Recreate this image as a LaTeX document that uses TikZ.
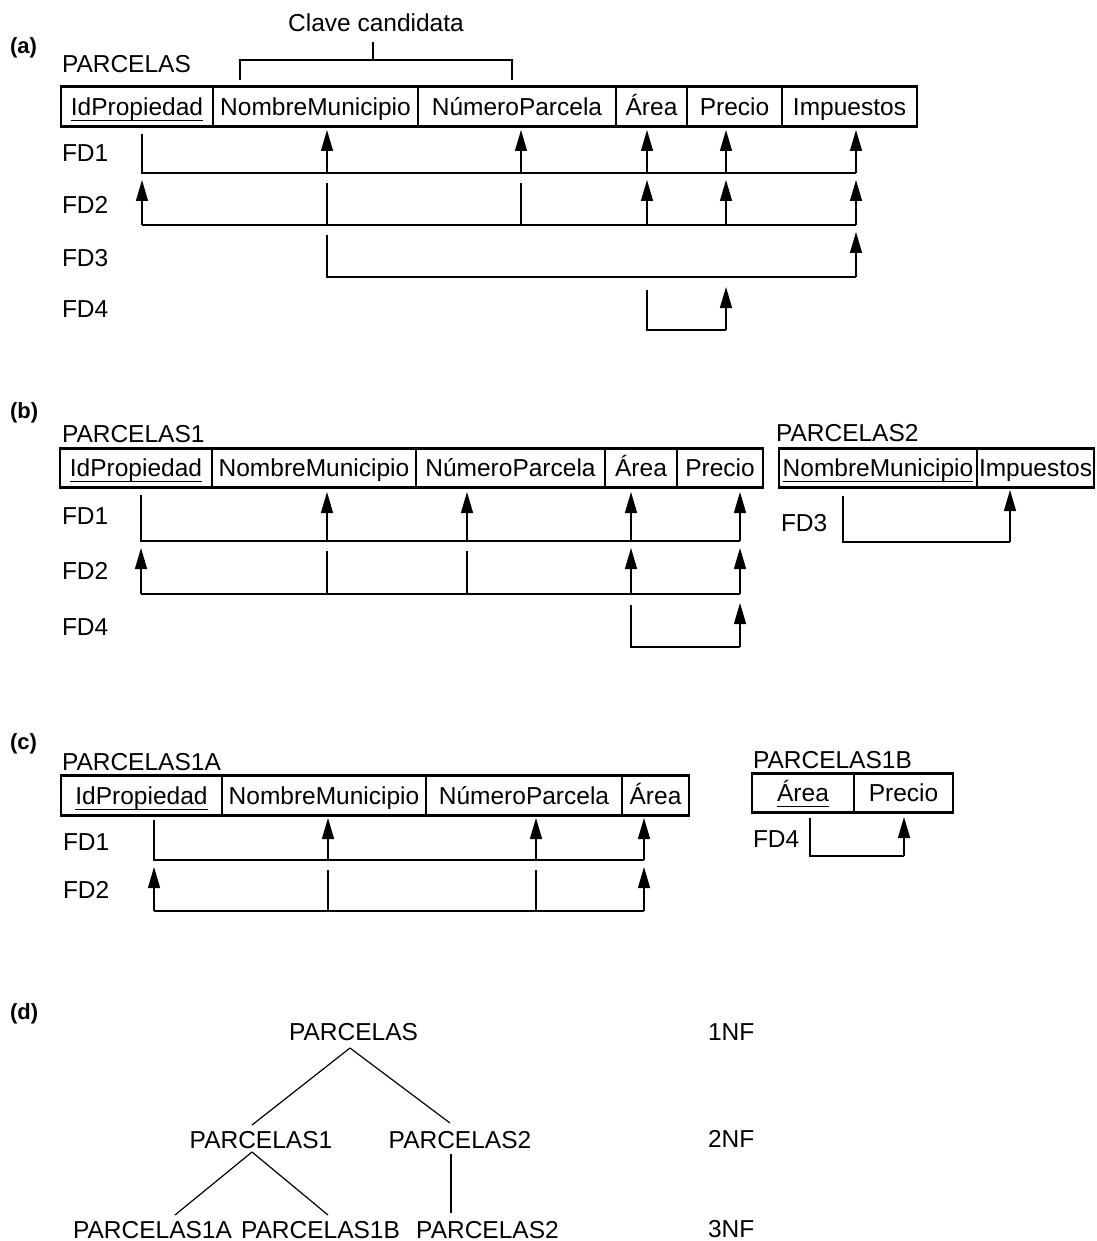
\documentclass[tikz,border=0pt]{standalone}
\usepackage{fontspec}
\setmainfont{Liberation Sans}
\usetikzlibrary{arrows.meta}
\newcommand\myul[1]{\setbox0\hbox{#1}\rlap{\rule[-5.5pt]{\wd0}{1pt}}\box0}
\begin{document}
\begin{tikzpicture}[x=1pt,y=-1pt,
  txt/.style={font=\fontsize{24.5}{29}\selectfont, inner sep=0pt, outer sep=0pt, text height=17.5pt, text depth=0pt},
  lbl/.style={font=\fontsize{22}{26}\selectfont\bfseries, inner sep=0pt, outer sep=0pt, anchor=base west},
  cell/.style={txt, draw, line width=1.1pt, minimum height=39.5pt},
  tblframe/.style={line width=2.6pt},
  conn/.style={line width=1.4pt},
  arr/.style={conn, -{Triangle[length=21pt 0 0,width=12pt 0 0]}},
  tree/.style={line width=1.2pt}
]
\useasboundingbox (0,0) rectangle (1096,1241);

% ---------------- (a) ----------------
\node[lbl] (la) at (10,54) {(a)};
\node[txt, anchor=base] (clave) at (376,32) {Clave candidata};
\draw[conn] (240,80) -- (240,60) -- (512,60) -- (512,80);
\draw[conn] (373,60) -- (373,42);
\node[txt, anchor=base west] (tA) at (62,73) {PARCELAS};
\node[cell, minimum width=152pt] (a1) at (137,106.5) {\myul{IdPropiedad}};
\node[cell, minimum width=205pt] (a2) at (315.5,106.5) {NombreMunicipio};
\node[cell, minimum width=198pt] (a3) at (517,106.5) {NúmeroParcela};
\node[cell, minimum width=71pt] (a4) at (651.5,106.5) {Área};
\node[cell, minimum width=95pt] (a5) at (734.5,106.5) {Precio};
\node[cell, minimum width=135pt] (a6) at (849.5,106.5) {Impuestos};
\draw[tblframe] (a1.north west) rectangle (a6.south east);

\node[txt, anchor=base west] (aFD1) at (62,162) {FD1};
\node[txt, anchor=base west] (aFD2) at (62,214) {FD2};
\node[txt, anchor=base west] (aFD3) at (62,266) {FD3};
\node[txt, anchor=base west] (aFD4) at (62,317) {FD4};

% FD1
\draw[conn] (142,134) -- (142,173) -- (856,173);
\foreach \x in {327,521,647,726,856} \draw[arr] (\x,173) -- (\x,130);
% FD2
\draw[conn] (142,225) -- (856,225);
\foreach \x in {142,647,726,856} \draw[arr] (\x,225) -- (\x,180);
\foreach \x in {327,521} \draw[conn] (\x,183) -- (\x,225);
% FD3
\draw[conn] (327,235) -- (327,277) -- (856,277);
\draw[arr] (856,277) -- (856,232);
% FD4
\draw[conn] (647,290) -- (647,330) -- (726,330);
\draw[arr] (726,330) -- (726,287);

% ---------------- (b) ----------------
\node[lbl] (lb) at (10,418) {(b)};
\node[txt, anchor=base west] (tB1) at (62,442) {PARCELAS1};
\node[cell, minimum width=152pt] (b1) at (136,468) {\myul{IdPropiedad}};
\node[cell, minimum width=204pt] (b2) at (314,468) {NombreMunicipio};
\node[cell, minimum width=189pt] (b3) at (510.5,468) {NúmeroParcela};
\node[cell, minimum width=72pt] (b4) at (641,468) {Área};
\node[cell, minimum width=86pt] (b5) at (720,468) {Precio};
\draw[tblframe] (b1.north west) rectangle (b5.south east);

\node[txt, anchor=base west] (tB2) at (776,441) {PARCELAS2};
\node[cell, minimum width=198pt] (b6) at (878,468) {\myul{NombreMunicipio}};
\node[cell, minimum width=117pt] (b7) at (1035.5,468) {Impuestos};
\draw[tblframe] (b6.north west) rectangle (b7.south east);

\node[txt, anchor=base west] (bFD1) at (62,524) {FD1};
\node[txt, anchor=base west] (bFD2) at (62,579) {FD2};
\node[txt, anchor=base west] (bFD4) at (62,635) {FD4};
\node[txt, anchor=base west] (bFD3) at (781,531) {FD3};

% FD1
\draw[conn] (141,495) -- (141,541) -- (740,541);
\foreach \x in {327,467,631,740} \draw[arr] (\x,541) -- (\x,492);
% FD2
\draw[conn] (141,594) -- (740,594);
\foreach \x in {141,631,740} \draw[arr] (\x,594) -- (\x,548);
\foreach \x in {327,467} \draw[conn] (\x,551) -- (\x,594);
% FD4
\draw[conn] (631,605) -- (631,647) -- (740,647);
\draw[arr] (740,647) -- (740,603);
% FD3
\draw[conn] (843,496) -- (843,542) -- (1010,542);
\draw[arr] (1010,542) -- (1010,490);

% ---------------- (c) ----------------
\node[lbl] (lc) at (10,749) {(c)};
\node[txt, anchor=base west] (tC1) at (62,770) {PARCELAS1A};
\node[cell, minimum width=161pt] (c1) at (141.5,795.5) {\myul{IdPropiedad}};
\node[cell, minimum width=204pt] (c2) at (324,795.5) {NombreMunicipio};
\node[cell, minimum width=196pt] (c3) at (524,795.5) {NúmeroParcela};
\node[cell, minimum width=67pt] (c4) at (655.5,795.5) {Área};
\draw[tblframe] (c1.north west) rectangle (c4.south east);

\node[txt, anchor=base west] (tC2) at (753,768) {PARCELAS1B};
\node[cell, minimum width=102pt] (c5) at (803,793) {\myul{Área}};
\node[cell, minimum width=99pt] (c6) at (903.5,793) {Precio};
\draw[tblframe] (c5.north west) rectangle (c6.south east);

\node[txt, anchor=base west] (cFD1) at (63,850) {FD1};
\node[txt, anchor=base west] (cFD2) at (63,898) {FD2};
\node[txt, anchor=base west] (cFD4) at (753,847) {FD4};

% FD1
\draw[conn] (154,820) -- (154,860) -- (644,860);
\foreach \x in {328,536,644} \draw[arr] (\x,860) -- (\x,818);
% FD2
\draw[conn] (154,911) -- (644,911);
\foreach \x in {154,644} \draw[arr] (\x,911) -- (\x,867);
\foreach \x in {328,536} \draw[conn] (\x,870) -- (\x,911);
% FD4
\draw[conn] (810,818) -- (810,856) -- (904,856);
\draw[arr] (904,856) -- (904,817);

% ---------------- (d) ----------------
\node[lbl] (ld) at (10,1019) {(d)};
\node[txt, anchor=base] (root) at (353.5,1040) {PARCELAS};
\node[txt, anchor=base] (p1) at (261,1148) {PARCELAS1};
\node[txt, anchor=base] (p2) at (460,1148) {PARCELAS2};
\node[txt, anchor=base] (p1a) at (152.5,1238) {PARCELAS1A};
\node[txt, anchor=base] (p1b) at (320.5,1238) {PARCELAS1B};
\node[txt, anchor=base] (p2b) at (487.5,1238) {PARCELAS2};
\node[txt, anchor=base west] (nf1) at (708,1040) {1NF};
\node[txt, anchor=base west] (nf2) at (708,1147) {2NF};
\node[txt, anchor=base west] (nf3) at (708,1237) {3NF};

\draw[tree] ([xshift=-3.5pt,yshift=-8pt]root.south) -- ([xshift=-9pt,yshift=5.5pt]p1.north);
\draw[tree] ([xshift=-3.5pt,yshift=-8pt]root.south) -- ([xshift=-10pt,yshift=7.5pt]p2.north);
\draw[tree] ([xshift=-9pt,yshift=-4pt]p1.south) -- ([xshift=22.5pt,yshift=5.5pt]p1a.north);
\draw[tree] ([xshift=-9pt,yshift=-4pt]p1.south) -- ([xshift=7.5pt,yshift=5.5pt]p1b.north);
\draw[tree] ([xshift=-9pt,yshift=-6pt]p2.south) -- ([xshift=-36.5pt,yshift=7.5pt]p2b.north);
\end{tikzpicture}
\end{document}
